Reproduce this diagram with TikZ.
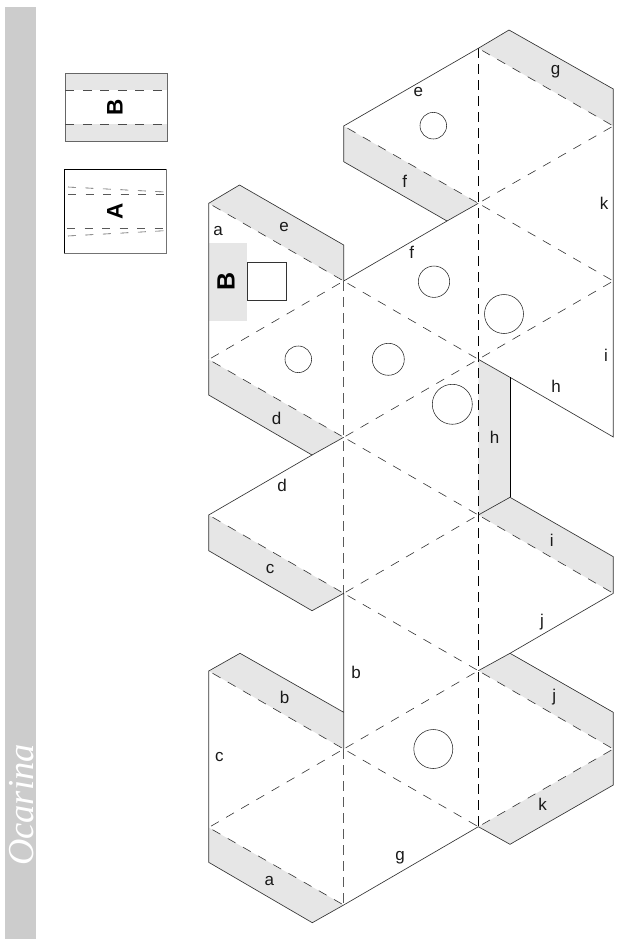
\documentclass[tikz,border=0pt]{standalone}
\usepackage{fontspec}
\setmainfont{Liberation Sans}
\newfontfamily\titlefont{Liberation Serif}
\definecolor{tabgray}{HTML}{E6E6E6}
\definecolor{barbg}{HTML}{CCCCCC}
\definecolor{linegray}{HTML}{5A5A5A}
\tikzset{
  tabfill/.style={fill=tabgray,draw=none},
  cutline/.style={draw=black!80,line width=0.65pt,line join=miter},
  foldline/.style={draw=black!80,line width=0.6pt,dash pattern=on 9pt off 8.5pt,dash phase=13pt},
  foldmain/.style={draw=black,line width=0.9pt,dash pattern=on 10pt off 6pt},
  foldside/.style={draw=linegray,line width=0.6pt,dash pattern=on 10pt off 6pt},
  hole/.style={draw=black!85,line width=0.55pt,fill=white,circle,inner sep=0pt},
  lbl/.style={font=\fontsize{17}{19}\selectfont,inner sep=0pt,text=black!90},
  biglbl/.style={font=\fontsize{25}{27}\selectfont\bfseries,rotate=90,inner sep=0pt},
  smalllbl/.style={font=\fontsize{22.5}{24}\selectfont\bfseries,rotate=90,inner sep=0pt},
  foldgray/.style={draw=black!65,line width=0.6pt,dash pattern=on 8pt off 9.5pt},
}
\begin{document}
\begin{tikzpicture}[x=1pt,y=-1pt]
\useasboundingbox (0,0) rectangle (621,942);
% sidebar
\fill[barbg] (5,7) rectangle (36,938.5);
\node[rotate=90,anchor=base west,inner sep=0pt,text=white,font=\fontsize{36.5}{38}\selectfont\titlefont\itshape] (title) at (33.5,866) {Ocarina};
% vertices
\foreach \n/\y in {1/203.3,2/359.5,3/515,4/671,5/827.5} \coordinate (L\n) at (208.7,\y);
\foreach \n/\y in {0/126,1/281,2/437.3,3/593.3,4/749,5/905} \coordinate (M\n) at (343.7,\y);
\foreach \n/\y in {0/48.3,1/203.3,2/359.3,3/515,4/670.7,5/826.7} \coordinate (R\n) at (478.3,\y);
\foreach \n/\y in {0/126,1/281,2/437,3/593.3,4/749} \coordinate (E\n) at (613.3,\y);
% tab corners
\coordinate (te1) at (239.5,185);   \coordinate (te2) at (343.7,245);
\coordinate (tf1) at (343.7,161.7); \coordinate (tf2) at (447,221);
\coordinate (tg1) at (509,30);      \coordinate (tg2) at (613.3,89);
\coordinate (th1) at (510,377.3);   \coordinate (th2) at (510,497.3);
\coordinate (ti1) at (613.3,556.7);
\coordinate (tj1) at (510,653.3);   \coordinate (tj2) at (613.3,712.3);
\coordinate (tk1) at (613.3,785);   \coordinate (tk2) at (510,844.3);
\coordinate (ta1) at (208.7,862.3); \coordinate (ta2) at (312.3,922.7);
\coordinate (tb1) at (240,653.3);   \coordinate (tb2) at (343.7,712.3);
\coordinate (tc1) at (208.7,550.7); \coordinate (tc2) at (312,610.7);
\coordinate (td1) at (208.7,395);   \coordinate (td2) at (312,455);
% grey glue tabs
\fill[tabfill] (L1)--(te1)--(te2)--(M1)--cycle;
\fill[tabfill] (M0)--(tf1)--(tf2)--(R1)--cycle;
\fill[tabfill] (R0)--(tg1)--(tg2)--(E0)--cycle;
\fill[tabfill] (R2)--(th1)--(th2)--(R3)--cycle;
\fill[tabfill] (R3)--(th2)--(ti1)--(E3)--cycle;
\fill[tabfill] (R4)--(tj1)--(tj2)--(E4)--cycle;
\fill[tabfill] (E4)--(tk1)--(tk2)--(R5)--cycle;
\fill[tabfill] (L5)--(ta1)--(ta2)--(M5)--cycle;
\fill[tabfill] (L4)--(tb1)--(tb2)--(M4)--cycle;
\fill[tabfill] (L3)--(tc1)--(tc2)--(M3)--cycle;
\fill[tabfill] (L2)--(td1)--(td2)--(M2)--cycle;
\fill[tabgray] (208.7,242.7) rectangle (247,320.7);
% fold lines
\foreach \a/\b in {L1/M1,M0/R1,R0/E0,M1/R2,R1/E1,M2/R3,L2/M2,L3/M3,M3/R4,L4/M4,M4/R5,L5/M5,R3/E3,R4/E4,
                   M1/L2,R1/E0,R2/E1,R2/M2,R3/M3,R4/M4,M4/L5,R5/E4}
  \draw[foldline] (\a)--(\b);
\draw[foldmain] (R0)--(R5);
\draw[foldside] (M1)--(M3);
\draw[foldside] (M4)--(M5);
% cut lines
\draw[cutline] (L2)--(L1)--(te1)--(te2)--(M1)--(tf2);
\draw[cutline] (tf2)--(R1);
\draw[cutline] (tf2)--(tf1)--(M0)--(R0)--(tg1)--(tg2)--(E0)--(E2)--(th1);
\draw[cutline] (R2)--(th1);
\draw[draw=black,line width=0.9pt] (th1)--(th2);
\draw[cutline] (R3)--(th2)--(ti1)--(E3)--(tj1)--(R4);
\draw[cutline] (tj1)--(tj2)--(E4)--(tk1)--(tk2)--(R5)--(M5)--(ta2)--(ta1)--(L5)--(L4)--(tb1)--(tb2)--(M4)--(M3)--(tc2)--(tc1)--(L3)--(td2)--(td1)--(L2);
\draw[cutline] (td2)--(M2);
% holes
\node[hole,minimum size=26.6pt] (h1) at (433.3,125.7) {};
\node[hole,minimum size=31.4pt] (h2) at (434,281.7) {};
\node[hole,minimum size=39pt]   (h3) at (504,314) {};
\node[hole,minimum size=32pt]   (h4) at (388.3,359.3) {};
\node[hole,minimum size=40pt]   (h5) at (452.3,404.3) {};
\node[hole,minimum size=39pt]   (h6) at (433.3,749) {};
\node[hole,minimum size=26.6pt] (h7) at (298.3,359.3) {};
% slot
\draw[draw=black!80,line width=0.6pt,fill=white] (247.3,262.3) rectangle (286.3,300.7);
\node[biglbl] (slotB) at (226,281.7) {B};
% letters
\node[lbl] (la) at (218,231) {a};
\node[lbl] (le) at (284,227) {e};
\node[lbl] (le2) at (418.3,92.3) {e};
\node[lbl] (lf) at (404.7,181) {f};
\node[lbl] (lf2) at (411.7,252) {f};
\node[lbl] (lg) at (555.7,72) {g};
\node[lbl] (lk) at (604,203) {k};
\node[lbl] (li) at (606,355) {i};
\node[lbl] (lh) at (556,386.7) {h};
\node[lbl] (lh2) at (494.7,437.7) {h};
\node[lbl] (li2) at (551.7,540.7) {i};
\node[lbl] (lj) at (542,622) {j};
\node[lbl] (lj2) at (554.3,696.7) {j};
\node[lbl] (lk2) at (542.7,804.3) {k};
\node[lbl] (lg2) at (400,857.3) {g};
\node[lbl] (lb) at (356,672.3) {b};
\node[lbl] (ld) at (276.7,418.3) {d};
\node[lbl] (ld2) at (282,485.7) {d};
\node[lbl] (lc) at (270,569) {c};
\node[lbl] (lb2) at (284.7,697.3) {b};
\node[lbl] (lc2) at (219.3,757.3) {c};
\node[lbl] (la2) at (269.3,880.7) {a};
% strip B
\fill[tabgray] (65.3,73.3) rectangle (167.3,90.3);
\fill[tabgray] (65.3,124.3) rectangle (167.3,141.3);
\draw[draw=black!60,line width=0.7pt] (65.3,73.3) rectangle (167.3,141.3);
\draw[draw=black!70,line width=0.6pt,dash pattern=on 9pt off 8.5pt] (65.3,90.3)--(167.3,90.3);
\draw[draw=black!70,line width=0.6pt,dash pattern=on 9pt off 8.5pt] (65.3,124.3)--(167.3,124.3);
\node[smalllbl] (stripB) at (115,107.5) {B};
% strip A
\draw[draw=black!55,line width=0.7pt] (64.3,253.3)--(166.3,253.3)--(166.3,169.3);
\draw[draw=black,line width=0.7pt] (64.3,253.3)--(64.3,169.3)--(166.3,169.3);
\draw[foldgray] (68,187)--(165,192);
\draw[foldgray] (68,194.3)--(165,194.3);
\draw[foldgray] (67,228.3)--(165,228.3);
\draw[foldgray] (68,236)--(165,230.7);
\node[smalllbl] (stripA) at (115,211.5) {A};
\end{tikzpicture}
\end{document}
